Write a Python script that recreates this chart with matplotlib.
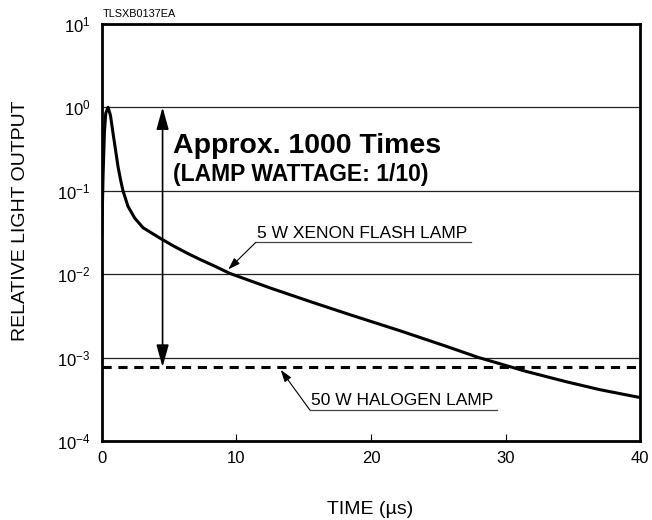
import matplotlib
matplotlib.use("Agg")
import matplotlib.pyplot as plt

plt.rcParams['font.family'] = ['Liberation Sans', 'DejaVu Sans']
plt.rcParams['mathtext.fontset'] = 'custom'
plt.rcParams['mathtext.rm'] = 'Liberation Sans'
plt.rcParams['mathtext.it'] = 'Liberation Sans:italic'
plt.rcParams['mathtext.bf'] = 'Liberation Sans:bold'

# xenon flash lamp curve (time us, relative output)
xenon_t = [0.0, 0.1, 0.2, 0.3, 0.47, 0.65, 0.84, 1.0, 1.21, 1.4, 1.58, 1.95, 2.45, 3.07, 4.33,
           5.3, 6.3, 7.3, 8.4, 9.5, 12.5, 15.5, 18.5, 22.1, 25.5, 28.0, 31.5, 34.5, 37.0, 40.0]
xenon_y = [0.028, 0.15, 0.5, 0.85, 1.0, 0.8, 0.49, 0.33, 0.195, 0.135, 0.1, 0.065, 0.047, 0.036, 0.027,
           0.0219, 0.0180, 0.0150, 0.01245, 0.01023, 0.00684, 0.00468, 0.00324, 0.00211, 0.00138,
           0.00100, 0.000684, 0.000513, 0.000412, 0.000331]

# 50 W halogen lamp (flat)
halogen_t = [0, 40]
halogen_y = [7.7e-4, 7.7e-4]

yticks = [1e-4, 1e-3, 1e-2, 1e-1, 1e0, 1e1]
ytick_labels = ['$\\mathregular{10^{-4}}$', '$\\mathregular{10^{-3}}$', '$\\mathregular{10^{-2}}$',
                '$\\mathregular{10^{-1}}$', '$\\mathregular{10^{0}}$', '$\\mathregular{10^{1}}$']
xticks = [0, 10, 20, 30, 40]

fig = plt.figure(figsize=(6.52, 5.2), dpi=100)
ax = fig.add_axes([0.1560, 0.152, 0.826, 0.802])

ax.set_yscale('log')
ax.set_xlim(0, 40)
ax.set_ylim(1e-4, 1e1)
ax.set_yticks(yticks)
ax.set_yticklabels(ytick_labels, fontsize=12)
ax.minorticks_off()
ax.set_xticks(xticks)
ax.set_xticklabels([str(v) for v in xticks], fontsize=12)
ax.tick_params(axis='x', direction='in', length=5, width=0.8, pad=7)
ax.tick_params(axis='y', length=0, pad=8)
for s in ax.spines.values():
    s.set_linewidth(2)

for v in yticks[1:-1]:
    ax.axhline(v, color='#222222', lw=0.9, zorder=1)

ax.plot(xenon_t, xenon_y, color='black', lw=2.2, zorder=3)
ax.plot(halogen_t, halogen_y, color='black', lw=2.2, ls=(0, (3, 2.2)), zorder=3)

# double arrow
ax.annotate('', xy=(4.52, 1.0), xytext=(4.52, 7.7e-4),
            arrowprops=dict(arrowstyle='<|-|>,head_length=0.9,head_width=0.25', color='black', lw=1.2,
                            mutation_scale=15, shrinkA=0, shrinkB=0))
ax.text(5.3, 0.287, 'Approx. 1000 Times', fontsize=20.5, fontweight='bold', va='baseline')
ax.text(5.3, 0.132, '(LAMP WATTAGE: 1/10)', fontsize=16.5, fontweight='bold', va='baseline')

# xenon label
ax.text(11.5, 0.0275, '5 W XENON FLASH LAMP', fontsize=12.5, va='baseline')
ax.plot([11.45, 27.4], [0.0241, 0.0241], color='#444444', lw=0.9)
ax.annotate('', xy=(9.4, 0.0114), xytext=(11.45, 0.0241),
            arrowprops=dict(arrowstyle='-|>,head_length=0.6,head_width=0.2', color='black', lw=0.8,
                            mutation_scale=12, shrinkA=0, shrinkB=0))

# halogen label
ax.text(15.55, 2.69e-4, '50 W HALOGEN LAMP', fontsize=12.5, va='baseline')
ax.plot([15.46, 29.33], [2.35e-4, 2.35e-4], color='#444444', lw=0.9)
ax.annotate('', xy=(13.3, 7.1e-4), xytext=(15.46, 2.35e-4),
            arrowprops=dict(arrowstyle='-|>,head_length=0.6,head_width=0.2', color='black', lw=0.8,
                            mutation_scale=12, shrinkA=0, shrinkB=0))

fig.text(0.567, 0.021, 'TIME (µs)', fontsize=14, ha='center', va='center')
fig.text(0.032, 0.575, 'RELATIVE LIGHT OUTPUT', fontsize=14, ha='center', va='center', rotation=90)
fig.text(0.157, 0.973, 'TLSXB0137EA', fontsize=7.8, va='center')

fig.savefig('out.png', dpi=100)
